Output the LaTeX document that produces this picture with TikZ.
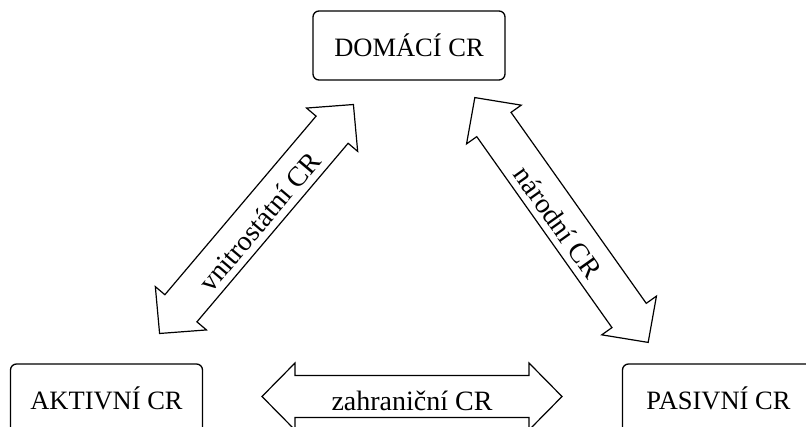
\documentclass[tikz,border=0pt]{standalone}
\usepackage{fontspec}
\setmainfont{Liberation Serif}
\begin{document}
\begin{tikzpicture}[x=1pt,y=-1pt,
  crbox/.style={draw=black, line width=1.3pt, rounded corners=6pt, fill=white,
    minimum width=192pt, minimum height=69pt, inner sep=0pt,
    font=\fontsize{26.5}{30}\selectfont},
  arrowshape/.style={draw=black, line width=1.2pt, fill=white, line join=miter},
  arrowlabel/.style={inner sep=0pt, font=\fontsize{28}{32}\selectfont}]
\useasboundingbox (0,0) rectangle (806,427);
\clip (0,0) rectangle (806,427);
\fill[white] (0,0) rectangle (806,427);
\newcommand\crarrow[4]{%
  \begin{scope}[shift={#1}, rotate=#2]
    \draw[arrowshape] (-150,0) -- (-117,-33.5) -- (-117,-21) -- (117,-21)
      -- (117,-33.5) -- (150,0) -- (117,33.5) -- (117,21) -- (-117,21)
      -- (-117,33.5) -- cycle;
    \node[arrowlabel, transform shape] (#3) at (0,4) {#4};
  \end{scope}}
% boxes
\node[crbox] (dom) at (409,45.5) {DOMÁCÍ CR};
\node[crbox] (akt) at (106.5,398.5) {AKTIVNÍ CR};
\node[crbox] (pas) at (718.5,398.5) {PASIVNÍ CR};
% arrows
\crarrow{(256.5,219)}{49.75}{vnitro}{vnitrostátní CR}
\crarrow{(561.5,220)}{-54.7}{narod}{národní CR}
\crarrow{(412,396.5)}{0}{zahr}{zahraniční CR}
\end{tikzpicture}
\end{document}
